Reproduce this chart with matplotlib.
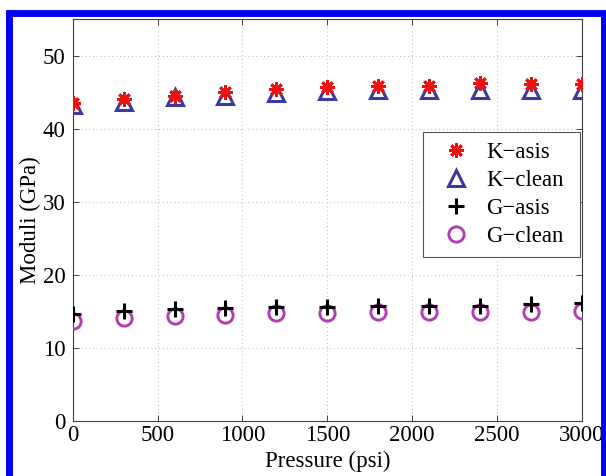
import matplotlib
matplotlib.use("Agg")
import matplotlib.pyplot as plt
from matplotlib.patches import Rectangle

# ---- data ----
pressure = [0, 300, 600, 900, 1200, 1500, 1800, 2100, 2400, 2700, 3000]
k_asis = [43.5, 44.1, 44.5, 45.0, 45.4, 45.7, 45.9, 45.9, 46.2, 46.1, 46.1]
k_clean = [43.2, 43.7, 44.3, 44.5, 44.9, 45.1, 45.3, 45.3, 45.3, 45.3, 45.3]
g_asis = [14.7, 15.0, 15.3, 15.4, 15.6, 15.6, 15.7, 15.8, 15.8, 15.95, 16.1]
g_clean = [13.7, 14.1, 14.4, 14.55, 14.75, 14.75, 14.9, 14.9, 14.9, 14.9, 15.0]
labels = ["K\u2212asis", "K\u2212clean", "G\u2212asis", "G\u2212clean"]
xticks = [0, 500, 1000, 1500, 2000, 2500, 3000]
yticks = [0, 10, 20, 30, 40, 50]

plt.rcParams['font.family'] = ['Liberation Serif', 'DejaVu Serif']
FS = 16.5
plt.rcParams['font.size'] = FS

W, H = 606, 476
fig = plt.figure(figsize=(W / 100, H / 100), dpi=100)
fig.patch.set_facecolor('white')

# blue frame
fig.patches.append(Rectangle((8.5 / W, -10 / H), (604 - 8.5) / W, (476 - 13 + 10) / H,
                             transform=fig.transFigure, fill=False,
                             edgecolor='#0000ff', lw=5.0, zorder=10))

ax = fig.add_axes([72.7 / W, (476 - 421) / H, 509.3 / W, 402 / H])

ax.plot(pressure, k_asis, linestyle='none', marker=(8, 2, 0), ms=10.5, mew=2.0,
        color='#ee1111', label=labels[0], zorder=4)
ax.plot(pressure, k_clean, linestyle='none', marker='^', ms=12, mew=2.2,
        mfc='none', mec='#3a3aa0', label=labels[1], zorder=3)
ax.plot(pressure, g_asis, linestyle='none', marker='+', ms=11.5, mew=2.2,
        color='black', label=labels[2], zorder=4)
ax.plot(pressure, g_clean, linestyle='none', marker='o', ms=11, mew=2.1,
        mfc='none', mec='#b23fb2', label=labels[3], zorder=3)

ax.set_xlim(0, 3000)
ax.set_ylim(0, 55)
ax.set_xticks(xticks)
ax.set_yticks(yticks)
ax.grid(True, color='#b8b8b8', linestyle=(0, (1, 3)), linewidth=0.7)
ax.set_axisbelow(True)
for s in ax.spines.values():
    s.set_color('#404040')
    s.set_linewidth(0.8)
ax.tick_params(direction='in', top=True, right=True, length=4, width=0.7,
               color='#404040', labelsize=FS)
ax.tick_params(axis='y', pad=5)
ax.tick_params(axis='x', pad=3)

ax.set_xlabel('Pressure (psi)', fontsize=FS, labelpad=3)
ax.set_ylabel('Moduli (GPa)', fontsize=FS, labelpad=1)

leg = ax.legend(loc='upper left', bbox_to_anchor=(0.688, 0.0, 0.308, 0.719),
                mode='expand', borderaxespad=0,
                fancybox=False, edgecolor='#555555', framealpha=1, fontsize=FS,
                labelspacing=0.3, handlelength=2.0, handletextpad=0.3,
                borderpad=0.45)
leg.get_frame().set_linewidth(0.8)

fig.savefig('out.png', dpi=100)
